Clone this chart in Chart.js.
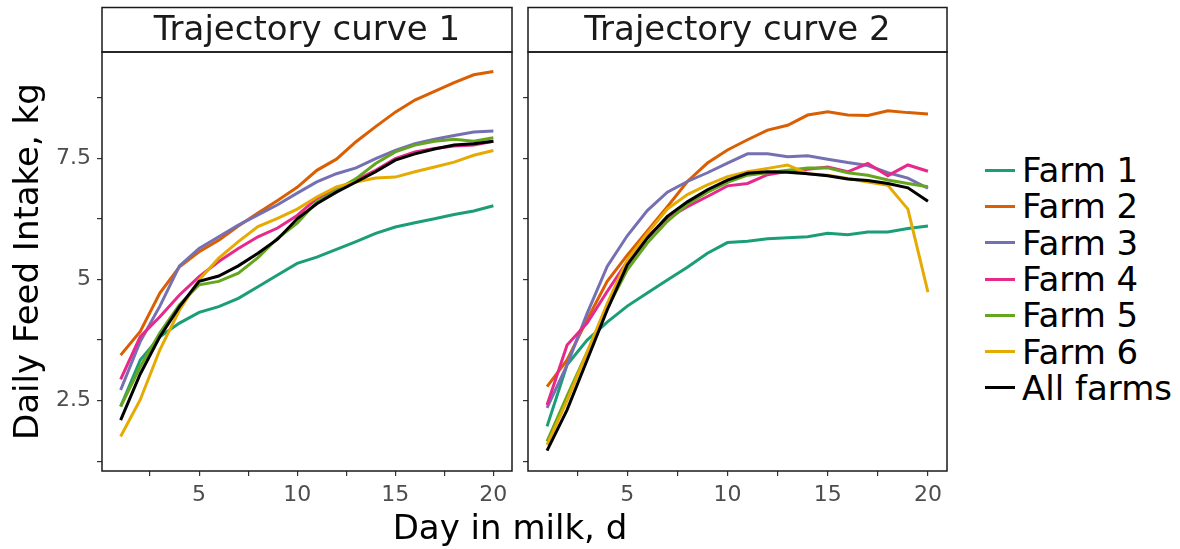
<!DOCTYPE html>
<html>
<head>
<meta charset="utf-8">
<script src="https://cdn.jsdelivr.net/npm/chart.js@4.4.1/dist/chart.umd.min.js"></script>
<style>
  body { margin: 0; background: #fff; font-family: "DejaVu Sans", sans-serif; }
  #wrap { position: relative; width: 1180px; height: 549px; }
  #c1 { position: absolute; left: 0; top: 0; }
  #c2 { position: absolute; left: 520px; top: 0; }
  #xtitle { position: absolute; left: 310px; width: 400px; top: 507px; text-align: center; font-size: 34px; line-height: 40px; color: #000; }
  #legend { position: absolute; left: 985px; top: 152px; }
  .row { height: 36.3px; display: flex; align-items: center; font-size: 34px; color: #000; }
  .key { width: 30px; height: 3px; margin-right: 7px; }
</style>
</head>
<body>
<div id="wrap">
  <canvas id="c1" width="520" height="549"></canvas>
  <canvas id="c2" width="440" height="549"></canvas>
  <div id="xtitle">Day in milk, d</div>
  <div id="legend"></div>
</div>
<script>
// Data
const days = [1, 2, 3, 4, 5, 6, 7, 8, 9, 10, 11, 12, 13, 14, 15, 16, 17, 18, 19, 20];
const panelTitles = ['Trajectory curve 1', 'Trajectory curve 2'];
const seriesNames = ['Farm 1', 'Farm 2', 'Farm 3', 'Farm 4', 'Farm 5', 'Farm 6', 'All farms'];
const seriesColors = ['#1B9E77', '#D95F02', '#7570B3', '#E7298A', '#66A61E', '#E6AB02', '#000000'];

// Trajectory curve 1
const farm1Curve1 = [2.38, 3.34, 3.82, 4.10, 4.32, 4.44, 4.61, 4.85, 5.09, 5.33, 5.46, 5.62, 5.78, 5.95, 6.08, 6.17, 6.25, 6.34, 6.41, 6.52];
const farm2Curve1 = [3.44, 3.93, 4.72, 5.26, 5.57, 5.81, 6.10, 6.37, 6.63, 6.90, 7.25, 7.48, 7.84, 8.15, 8.45, 8.70, 8.88, 9.06, 9.22, 9.29];
const farm3Curve1 = [2.72, 3.72, 4.45, 5.28, 5.64, 5.88, 6.12, 6.33, 6.54, 6.78, 7.01, 7.18, 7.30, 7.49, 7.66, 7.80, 7.89, 7.97, 8.04, 8.06];
const farm4Curve1 = [2.94, 3.82, 4.23, 4.68, 5.06, 5.37, 5.64, 5.88, 6.06, 6.32, 6.67, 6.87, 7.05, 7.25, 7.49, 7.63, 7.70, 7.75, 7.77, 7.85];
const farm5Curve1 = [2.38, 3.20, 3.90, 4.48, 4.89, 4.96, 5.13, 5.45, 5.85, 6.16, 6.60, 6.84, 7.08, 7.39, 7.63, 7.77, 7.85, 7.89, 7.85, 7.92];
const farm6Curve1 = [1.76, 2.52, 3.55, 4.37, 4.99, 5.44, 5.78, 6.09, 6.26, 6.45, 6.70, 6.91, 7.01, 7.09, 7.11, 7.22, 7.32, 7.42, 7.56, 7.66];
const allCurve1 = [2.10, 3.05, 3.82, 4.44, 4.96, 5.07, 5.28, 5.54, 5.83, 6.25, 6.56, 6.80, 7.01, 7.22, 7.46, 7.59, 7.69, 7.77, 7.80, 7.85];

// Trajectory curve 2
const farm1Curve2 = [1.97, 3.24, 3.75, 4.12, 4.45, 4.72, 4.99, 5.25, 5.54, 5.76, 5.79, 5.84, 5.86, 5.88, 5.95, 5.92, 5.98, 5.98, 6.05, 6.10];
const farm2Curve2 = [2.79, 3.34, 4.17, 4.96, 5.50, 6.00, 6.50, 7.02, 7.40, 7.67, 7.88, 8.08, 8.18, 8.39, 8.46, 8.39, 8.38, 8.48, 8.44, 8.41];
const farm3Curve2 = [2.35, 3.24, 4.30, 5.27, 5.90, 6.42, 6.80, 7.02, 7.20, 7.40, 7.59, 7.59, 7.53, 7.55, 7.48, 7.41, 7.35, 7.20, 7.09, 6.88];
const farm4Curve2 = [2.41, 3.65, 4.10, 4.75, 5.37, 5.88, 6.26, 6.50, 6.71, 6.93, 6.98, 7.16, 7.23, 7.27, 7.32, 7.22, 7.39, 7.14, 7.36, 7.23];
const farm5Curve2 = [1.66, 2.60, 3.50, 4.40, 5.20, 5.75, 6.20, 6.55, 6.80, 7.00, 7.15, 7.20, 7.25, 7.30, 7.30, 7.20, 7.15, 7.05, 6.98, 6.91];
const farm6Curve2 = [1.59, 2.50, 3.50, 4.50, 5.40, 5.95, 6.45, 6.75, 6.95, 7.12, 7.22, 7.29, 7.36, 7.18, 7.15, 7.08, 7.01, 6.94, 6.45, 4.74];
const allCurve2 = [1.47, 2.31, 3.34, 4.37, 5.30, 5.85, 6.30, 6.60, 6.85, 7.05, 7.19, 7.22, 7.21, 7.18, 7.14, 7.07, 7.04, 6.98, 6.89, 6.61];

// Axes
const xTicks = [2.5, 5, 7.5, 10, 12.5, 15, 17.5, 20];
const xTickLabels = [5, 10, 15, 20];
const yTicks = [1.25, 2.5, 3.75, 5, 6.25, 7.5, 8.75];
const yTickLabels = [2.5, 5, 7.5];

const FONT = 'DejaVu Sans';

// Strip header + panel border
const stripPlugin = {
  id: 'strip',
  afterDraw(chart, args, opts) {
    const { ctx, chartArea: a } = chart;
    ctx.save();
    ctx.strokeStyle = '#1a1a1a';
    ctx.lineWidth = 1.5;
    ctx.strokeRect(a.left, a.top, a.right - a.left, a.bottom - a.top);
    ctx.strokeRect(a.left, 7.5, a.right - a.left, a.top - 7.5);
    ctx.fillStyle = '#1a1a1a';
    ctx.font = '34px "' + FONT + '"';
    ctx.textAlign = 'center';
    ctx.textBaseline = 'middle';
    ctx.fillText(opts.text, (a.left + a.right) / 2, (7.5 + a.top) / 2 + 1);
    ctx.restore();
  }
};

const makeDatasets = (lists) => lists.map((vals, i) => ({
  label: seriesNames[i],
  data: days.map((d, j) => ({ x: d, y: vals[j] })),
  borderColor: seriesColors[i],
  backgroundColor: seriesColors[i],
  borderWidth: 3,
  pointRadius: 0,
  tension: 0,
  order: lists.length - 1 - i
}));

const makePanel = (id, title, lists, yWidth, showY, rightPad) => new Chart(document.getElementById(id), {
  type: 'line',
  data: { datasets: makeDatasets(lists) },
  options: {
    responsive: false,
    animation: false,
    layout: { padding: { top: 52, right: rightPad, left: 0, bottom: 0 } },
    plugins: { legend: { display: false }, tooltip: { enabled: false }, strip: { text: title } },
    scales: {
      x: {
        type: 'linear', min: 0.05, max: 20.95,
        afterBuildTicks: s => { s.ticks = xTicks.map(v => ({ value: v })); },
        ticks: {
          autoSkip: false, maxRotation: 0, padding: 6, color: '#4d4d4d',
          font: { size: 22, family: FONT },
          callback: v => xTickLabels.includes(v) ? String(v) : ''
        },
        grid: { drawOnChartArea: false, drawTicks: true, tickLength: 5, color: '#333', lineWidth: 1.2 },
        border: { display: false },
        afterFit: s => { s.height = 78; }
      },
      y: {
        min: 1.05, max: 9.69,
        afterBuildTicks: s => { s.ticks = yTicks.map(v => ({ value: v })); },
        ticks: {
          autoSkip: false, padding: 6, color: '#4d4d4d',
          font: { size: 22, family: FONT },
          callback: v => (showY && yTickLabels.includes(v)) ? String(v) : ''
        },
        grid: { drawOnChartArea: false, drawTicks: true, tickLength: 5, color: '#333', lineWidth: 1.2 },
        border: { display: false },
        title: {
          display: showY, text: 'Daily Feed Intake, kg', color: '#000',
          font: { size: 34, family: FONT }, padding: { top: 9, bottom: 0 }
        },
        afterFit: s => { s.width = yWidth; }
      }
    }
  },
  plugins: [stripPlugin]
});

makePanel('c1', panelTitles[0],
  [farm1Curve1, farm2Curve1, farm3Curve1, farm4Curve1, farm5Curve1, farm6Curve1, allCurve1], 102, true, 8);
makePanel('c2', panelTitles[1],
  [farm1Curve2, farm2Curve2, farm3Curve2, farm4Curve2, farm5Curve2, farm6Curve2, allCurve2], 8, false, 13);

// Legend
const legend = document.getElementById('legend');
seriesNames.forEach((name, i) => {
  const row = document.createElement('div');
  row.className = 'row';
  row.innerHTML = '<span class="key" style="background:' + seriesColors[i] + '"></span><span>' + name + '</span>';
  legend.appendChild(row);
});
</script>
</body>
</html>
